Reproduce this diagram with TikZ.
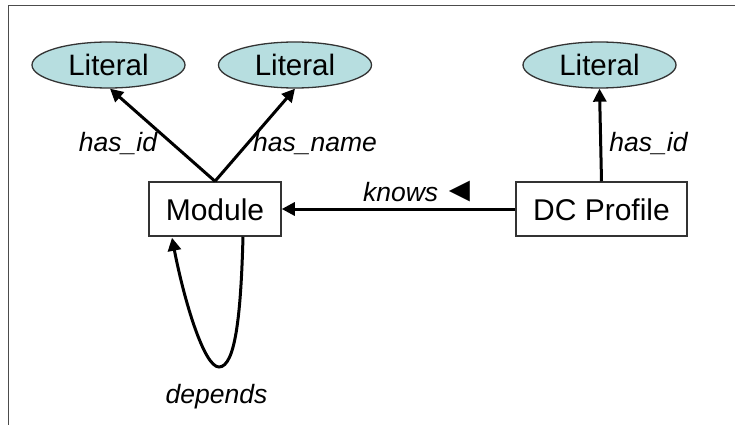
\documentclass[tikz,border=0pt]{standalone}
\usepackage{fontspec}
\setmainfont{Liberation Sans}
\usetikzlibrary{arrows.meta,shapes.geometric,calc}
\definecolor{litfill}{HTML}{B7DEE0}
\definecolor{edgegray}{HTML}{333333}
\tikzset{
  literal/.style={ellipse, draw=edgegray, line width=1.3pt, fill=litfill,
    minimum width=153pt, minimum height=46pt, inner sep=0pt,
    font=\fontsize{29.5}{30}\selectfont, text height=22pt, text depth=0pt},
  classbox/.style={rectangle, draw=edgegray, line width=1.5pt, fill=white,
    minimum height=54pt, inner sep=0pt,
    font=\fontsize{30}{31}\selectfont, text height=22pt, text depth=0pt},
  rel/.style={line width=3pt, -{Triangle[length=13pt,width=13pt]}},
  lbl/.style={font=\fontsize{26.5}{27}\selectfont\itshape, anchor=base, inner sep=0pt},
  frameline/.style={draw=black!70, line width=1.6pt}
}
\begin{document}
\begin{tikzpicture}[x=1pt,y=-1pt]
  \useasboundingbox (0,0) rectangle (735,425);
  % clipped frame: only its top and left edges are visible
  \draw[frameline] (735,5.5) -- (8.5,5.5) -- (8.5,425);

  % nodes
  \node[literal] (l1) at (108.5,65) {Literal};
  \node[literal] (l2) at (295,65) {Literal};
  \node[literal] (l3) at (599.5,65) {Literal};
  \node[classbox, minimum width=132pt] (mod) at (215,209) {Module};
  \node[classbox, minimum width=171pt] (dc) at (601.5,209) {DC Profile};

  % relations
  \draw[rel] (mod.north) -- ($(l1.south)+(1.5,0)$);
  \draw[rel] (mod.north) -- (l2.south);
  \draw[rel] (dc.north) -- (l3.south);
  \draw[rel] (dc.west) -- (mod.east);
  \coordinate (dep) at (219,367);
  \draw[rel] ($(mod.south)+(28,0)$) .. controls (241,310) and (236,367) .. (dep)
             .. controls (204,367) and (184,300) .. ($(mod.south)+(-43,1)$);

  % labels
  \node[lbl] (t1) at (118,151) {has\_id};
  \node[lbl] (t2) at (315,151) {has\_name};
  \node[lbl] (t3) at (648.5,151) {has\_id};
  \node[lbl] (t4) at (420,201) {knows\hspace{4pt}{\upshape\fontsize{35}{35}\selectfont ◄}};
  \node[lbl] (t5) at (216.5,403) {depends};
\end{tikzpicture}
\end{document}
